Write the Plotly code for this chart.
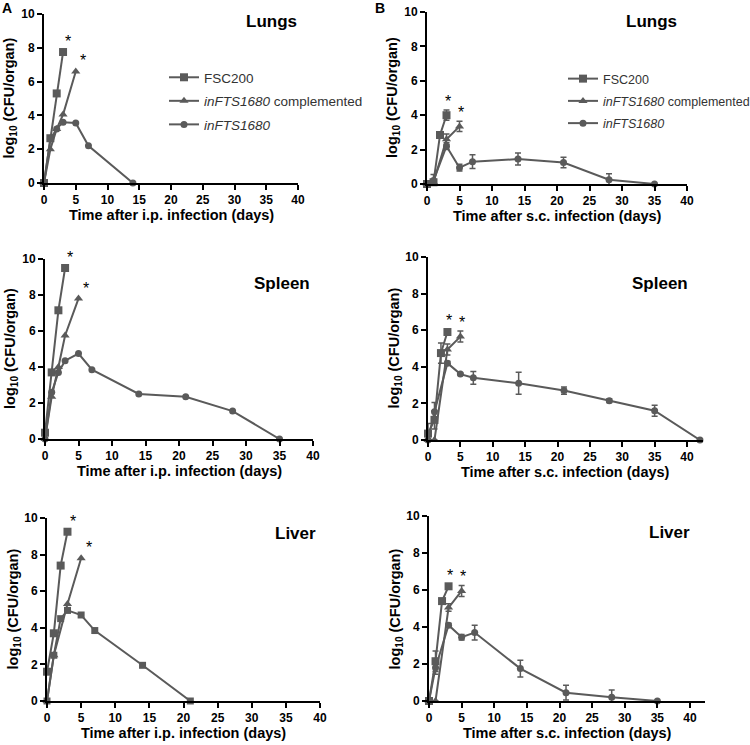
import plotly.graph_objects as go

# ---------------- data ----------------
series_names = ["FSC200", "<i>inFTS1680</i> complemented", "<i>inFTS1680</i>"]
panel_titles = ["Lungs", "Spleen", "Liver"]
x_title_ip = "Time after i.p. infection (days)"
x_title_sc = "Time after s.c. infection (days)"
y_title = "log<sub>10</sub> (CFU/organ)"
x_ticks = [0, 5, 10, 15, 20, 25, 30, 35, 40]
y_ticks = [0, 2, 4, 6, 8, 10]

# A: i.p. infection
ip_lungs_fsc_days = [0, 1, 2, 3]
ip_lungs_fsc_cfu = [0, 2.65, 5.3, 7.75]
ip_lungs_comp_days = [0, 1, 2, 3, 5]
ip_lungs_comp_cfu = [0, 2.0, 3.2, 4.05, 6.6]
ip_lungs_mut_days = [0, 1, 2, 3, 5, 7, 14]
ip_lungs_mut_cfu = [0, 2.6, 3.2, 3.6, 3.55, 2.2, 0]

ip_spleen_fsc_days = [0, 1, 2, 3]
ip_spleen_fsc_cfu = [0.35, 3.7, 7.15, 9.5]
ip_spleen_comp_days = [0, 1, 2, 3, 5]
ip_spleen_comp_cfu = [0, 2.35, 4.0, 5.75, 7.8]
ip_spleen_mut_days = [0, 1, 2, 3, 5, 7, 14, 21, 28, 35]
ip_spleen_mut_cfu = [0, 2.6, 3.7, 4.35, 4.75, 3.85, 2.5, 2.35, 1.55, 0]

ip_liver_fsc_days = [0, 1, 2, 3]
ip_liver_fsc_cfu = [1.6, 3.7, 7.4, 9.25]
ip_liver_comp_days = [0, 1, 3, 5]
ip_liver_comp_cfu = [0, 2.5, 5.3, 7.8]
ip_liver_mut_days = [0, 1, 2, 3, 5, 7, 14, 21]
ip_liver_mut_cfu = [0, 2.5, 4.5, 4.95, 4.7, 3.85, 1.95, 0]

# B: s.c. infection (mean, SEM)
sc_lungs_fsc_days = [0, 1, 2, 3]
sc_lungs_fsc_cfu = [0, 0.1, 2.85, 4.0]
sc_lungs_fsc_err = [0, 0.1, 0.15, 0.3]
sc_lungs_comp_days = [0, 1, 3, 5]
sc_lungs_comp_cfu = [0, 0.1, 2.6, 3.35]
sc_lungs_comp_err = [0, 0.1, 0.3, 0.3]
sc_lungs_mut_days = [0, 1, 3, 5, 7, 14, 21, 28, 35]
sc_lungs_mut_cfu = [0, 0.2, 2.2, 0.95, 1.3, 1.45, 1.25, 0.25, 0]
sc_lungs_mut_err = [0, 0.35, 0.2, 0.2, 0.4, 0.35, 0.3, 0.35, 0]

sc_spleen_fsc_days = [0, 1, 2, 3]
sc_spleen_fsc_cfu = [0.35, 1.1, 4.75, 5.9]
sc_spleen_fsc_err = [0.55, 0.5, 0.55, 0.15]
sc_spleen_comp_days = [0, 1, 3, 5]
sc_spleen_comp_cfu = [0, 0, 4.95, 5.65]
sc_spleen_comp_err = [0, 0, 0.3, 0.3]
sc_spleen_mut_days = [0, 1, 3, 5, 7, 14, 21, 28, 35, 42]
sc_spleen_mut_cfu = [0, 1.55, 4.2, 3.6, 3.4, 3.1, 2.7, 2.15, 1.6, 0]
sc_spleen_mut_err = [0, 0.5, 0.1, 0.05, 0.35, 0.6, 0.2, 0.1, 0.3, 0]

sc_liver_fsc_days = [0, 1, 2, 3]
sc_liver_fsc_cfu = [0, 2.15, 5.4, 6.2]
sc_liver_fsc_err = [0, 0.55, 0.1, 0.1]
sc_liver_comp_days = [0, 1, 3, 5]
sc_liver_comp_cfu = [0, 0, 5.05, 5.95]
sc_liver_comp_err = [0, 0, 0.2, 0.3]
sc_liver_mut_days = [0, 1, 3, 5, 7, 14, 21, 28, 35]
sc_liver_mut_cfu = [0, 1.8, 4.1, 3.45, 3.7, 1.75, 0.45, 0.2, 0]
sc_liver_mut_err = [0, 0.35, 0.1, 0.15, 0.4, 0.45, 0.4, 0.4, 0]

# ---------------- layout helpers ----------------
W, H = 750, 745
GRAY = "#5a5a5a"
FONT = "Arial"

def fx(px):
    return px / W

def fy(py):
    return 1 - py / H

# pixel boxes: (left, right, bottom, top) and x-range max
panels = [
    dict(box=(44, 298, 183, 14), xmax=40, col="A", title="Lungs", tpos=(271, 21), xt=x_title_ip,
         data=[(ip_lungs_fsc_days, ip_lungs_fsc_cfu, None), (ip_lungs_comp_days, ip_lungs_comp_cfu, None),
               (ip_lungs_mut_days, ip_lungs_mut_cfu, None)], mut_symbol="circle", legend="legend"),
    dict(box=(427, 687, 184, 12), xmax=40, col="B", title="Lungs", tpos=(651, 21), xt=x_title_sc,
         data=[(sc_lungs_fsc_days, sc_lungs_fsc_cfu, sc_lungs_fsc_err),
               (sc_lungs_comp_days, sc_lungs_comp_cfu, sc_lungs_comp_err),
               (sc_lungs_mut_days, sc_lungs_mut_cfu, sc_lungs_mut_err)], mut_symbol="circle", legend="legend2"),
    dict(box=(45, 313, 439, 259), xmax=40, col="A", title="Spleen", tpos=(282, 283), xt=x_title_ip,
         data=[(ip_spleen_fsc_days, ip_spleen_fsc_cfu, None), (ip_spleen_comp_days, ip_spleen_comp_cfu, None),
               (ip_spleen_mut_days, ip_spleen_mut_cfu, None)], mut_symbol="circle", legend=None),
    dict(box=(428, 703, 440, 257), xmax=42.47, col="B", title="Spleen", tpos=(660, 283), xt=x_title_sc,
         data=[(sc_spleen_fsc_days, sc_spleen_fsc_cfu, sc_spleen_fsc_err),
               (sc_spleen_comp_days, sc_spleen_comp_cfu, sc_spleen_comp_err),
               (sc_spleen_mut_days, sc_spleen_mut_cfu, sc_spleen_mut_err)], mut_symbol="circle", legend=None),
    dict(box=(47, 320, 701, 518), xmax=40, col="A", title="Liver", tpos=(295, 533), xt=x_title_ip,
         data=[(ip_liver_fsc_days, ip_liver_fsc_cfu, None), (ip_liver_comp_days, ip_liver_comp_cfu, None),
               (ip_liver_mut_days, ip_liver_mut_cfu, None)], mut_symbol="square", legend=None),
    dict(box=(429, 705, 701, 516), xmax=42.3, col="B", title="Liver", tpos=(669, 532), xt=x_title_sc,
         data=[(sc_liver_fsc_days, sc_liver_fsc_cfu, sc_liver_fsc_err),
               (sc_liver_comp_days, sc_liver_comp_cfu, sc_liver_comp_err),
               (sc_liver_mut_days, sc_liver_mut_cfu, sc_liver_mut_err)], mut_symbol="circle", legend=None),
]

fig = go.Figure()
annotations = []
layout = {}

def paper_text(px, py, text, size, angle=0, color="black", bold=True):
    return dict(x=fx(px), y=fy(py), xref="paper", yref="paper", text=text, textangle=angle,
                showarrow=False, xanchor="center", yanchor="middle",
                font=dict(family=FONT, size=size, color=color, weight="bold" if bold else "normal"))

for i, p in enumerate(panels):
    n = "" if i == 0 else str(i + 1)
    xa, ya = "x" + n, "y" + n
    l, r, b, t = p["box"]
    axis_common = dict(
        showgrid=False, zeroline=False, showline=True, linecolor="black", linewidth=2,
        ticks="outside", ticklen=5, tickwidth=2, tickcolor="black",
        tickfont=dict(family=FONT, size=12, color="black", weight="bold"),
        fixedrange=True, automargin=False,
    )
    layout["xaxis" + n] = dict(axis_common, domain=[fx(l), fx(r)], range=[0, p["xmax"]],
                               tickvals=x_ticks, anchor=ya)
    layout["yaxis" + n] = dict(axis_common, domain=[fy(b), fy(t)], range=[0, 10],
                               tickvals=y_ticks, anchor=xa)

    symbols = ["square", "triangle-up", p["mut_symbol"]]
    sizes = [8, 8, 7]
    for k, (xs, ys, es) in enumerate(p["data"]):
        tr = dict(
            x=xs, y=ys, mode="lines+markers", name=series_names[k],
            line=dict(color=GRAY, width=2),
            marker=dict(symbol=symbols[k], size=sizes[k], color=GRAY),
            xaxis=xa, yaxis=ya, cliponaxis=False,
            showlegend=p["legend"] is not None,
        )
        if p["legend"] is not None:
            tr["legend"] = p["legend"]
            tr["legendgroup"] = p["legend"] + str(k)
        if es is not None:
            tr["error_y"] = dict(type="data", array=es, visible=True, color=GRAY, thickness=1.5, width=3)
        fig.add_trace(go.Scatter(**tr))

    # significance asterisks above the last FSC200 and complemented points
    for k in (0, 1):
        xs, ys, es = p["data"][k]
        top = ys[-1] + (es[-1] if es is not None else 0)
        dx = 0.8 + 0.3 * k if p["col"] == "A" else 0.2
        annotations.append(dict(
            x=xs[-1] + dx, y=top, xref=xa, yref=ya, text="*", showarrow=False,
            xanchor="center", yanchor="bottom",
            font=dict(family=FONT, size=16, color="black"),
            yshift=(0 if p["col"] == "A" else -2),
        ))

    annotations.append(paper_text(p["tpos"][0], p["tpos"][1], p["title"], 17))
    annotations.append(paper_text(l - 34, (b + t) / 2, y_title, 14.5, angle=-90))
    annotations.append(paper_text((l + r) / 2, b + 32, p["xt"], 14.5))

annotations.append(paper_text(7, 8, "A", 14))
annotations.append(paper_text(380, 8, "B", 14))

legend_style = dict(font=dict(family=FONT, size=13.5, color="#333333"), bgcolor="rgba(0,0,0,0)",
                    xanchor="left", yanchor="top", tracegroupgap=3, itemwidth=30)

fig.update_layout(
    width=W, height=H, margin=dict(l=0, r=0, t=0, b=0, autoexpand=False),
    paper_bgcolor="white", plot_bgcolor="white",
    annotations=annotations,
    legend=dict(legend_style, x=fx(164), y=fy(62)),
    legend2=dict(legend_style, font=dict(family=FONT, size=12.5, color="#333333"), x=fx(563), y=fy(64)),
    **layout,
)

fig.write_html("out.html", config={"displayModeBar": False},
               post_script="document.body.style.margin='0px';document.body.style.overflow='hidden';")
